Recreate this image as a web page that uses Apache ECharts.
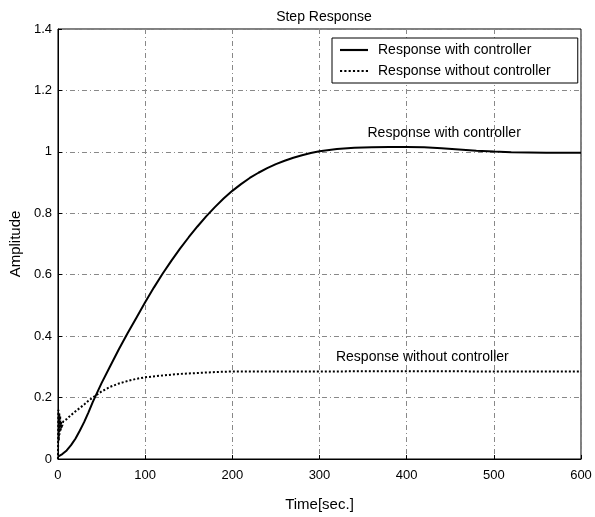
<!DOCTYPE html>
<html>
<head>
<meta charset="utf-8">
<script src="https://cdn.jsdelivr.net/npm/echarts@6/dist/echarts.min.js"></script>
<style>html,body{margin:0;padding:0;background:#fff}#c{width:595px;height:517px}</style>
</head>
<body>
<div id="c"></div>
<script>
// Time axis ticks
const xTicks = [0, 100, 200, 300, 400, 500, 600];
const yTicks = [0, 0.2, 0.4, 0.6, 0.8, 1, 1.2, 1.4];

// Response with controller
const tWith = [0, 5, 10, 15, 20, 25, 30, 35, 40, 50, 60, 70, 80, 90, 100, 110, 120, 130, 140, 150, 160, 170, 180, 190, 200, 210, 220, 230, 240, 250, 260, 270, 280, 290, 300, 320, 340, 360, 380, 400, 420, 440, 460, 480, 500, 520, 540, 560, 600];
const yWith = [0.008, 0.016, 0.028, 0.045, 0.066, 0.092, 0.12, 0.152, 0.186, 0.247, 0.303, 0.358, 0.41, 0.46, 0.51, 0.558, 0.603, 0.645, 0.685, 0.722, 0.757, 0.79, 0.82, 0.848, 0.873, 0.895, 0.915, 0.932, 0.947, 0.96, 0.971, 0.981, 0.989, 0.996, 1.002, 1.009, 1.013, 1.015, 1.016, 1.016, 1.015, 1.012, 1.008, 1.004, 1.001, 0.999, 0.998, 0.997, 0.997];

// Response without controller
const tWithout = [0, 0.5, 1, 1.5, 2, 2.5, 3, 3.5, 4, 5, 6, 10, 15, 20, 25, 30, 35, 40, 45, 50, 60, 70, 80, 90, 100, 120, 140, 160, 180, 200, 250, 300, 400, 500, 600];
const yWithout = [0, 0.16, 0.06, 0.15, 0.08, 0.14, 0.09, 0.12, 0.1, 0.11, 0.122, 0.13, 0.143, 0.155, 0.166, 0.177, 0.19, 0.2, 0.21, 0.22, 0.235, 0.246, 0.254, 0.261, 0.266, 0.272, 0.277, 0.28, 0.283, 0.285, 0.285, 0.285, 0.286, 0.285, 0.285];

const names = ['Response with controller', 'Response without controller'];
// annotation anchors in data units
const noteWith = [443, 1.062];
const noteWithout = [418, 0.333];

const font = 'Liberation Sans, Arial, sans-serif';
const solidIcon = 'path://M0,0H26V2H0Z';
const dottedIcon = 'path://M0,0h2v2h-2zM4,0h2v2h-2zM8,0h2v2h-2zM12,0h2v2h-2zM16,0h2v2h-2zM20,0h2v2h-2zM24,0h2v2h-2z';

const chart = echarts.init(document.getElementById('c'));
const gridLine = { show: true, lineStyle: { color: '#888', width: 1, type: [5, 3, 1, 3] } };

chart.setOption({
  animation: false,
  backgroundColor: '#fff',
  title: {
    text: 'Step Response', left: 319, top: 5, textAlign: 'center',
    textStyle: { fontFamily: font, fontSize: 14, fontWeight: 'normal', color: '#000' }
  },
  legend: {
    orient: 'vertical', left: 332, top: 38,
    padding: [5, 27, 5, 8], itemGap: 7, itemWidth: 28, itemHeight: 12,
    borderColor: '#000', borderWidth: 1, backgroundColor: '#fff',
    textStyle: { fontFamily: font, fontSize: 14, color: '#000', padding: [0, 0, 0, 5] },
    data: [{ name: names[0], icon: solidIcon }, { name: names[1], icon: dottedIcon }]
  },
  grid: { left: 57, right: 14, top: 29, bottom: 56, show: true, borderColor: '#000', borderWidth: 1 },
  xAxis: {
    type: 'value', min: 0, max: 600, interval: 100,
    name: 'Time[sec.]', nameLocation: 'middle', nameGap: 38,
    nameTextStyle: { fontFamily: font, fontSize: 15, color: '#000' },
    axisLine: { lineStyle: { color: '#000', width: 1 } },
    axisTick: { inside: true, length: 4, lineStyle: { color: '#000' } },
    axisLabel: { fontFamily: font, fontSize: 13, color: '#000', margin: 10 },
    splitLine: gridLine
  },
  yAxis: {
    type: 'value', min: 0, max: 1.4, interval: 0.2,
    name: 'Amplitude', nameLocation: 'middle', nameGap: 30,
    nameTextStyle: { fontFamily: font, fontSize: 15, color: '#000' },
    axisLine: { show: true, lineStyle: { color: '#000', width: 1 } },
    axisTick: { show: true, inside: true, length: 4, lineStyle: { color: '#000' } },
    axisLabel: { fontFamily: font, fontSize: 13, color: '#000', margin: 6,
      formatter: v => String(+v.toFixed(1)) },
    splitLine: gridLine
  },
  series: [
    {
      name: names[0], type: 'line', symbol: 'none', smooth: false,
      lineStyle: { color: '#000', width: 2 }, itemStyle: { color: '#000' },
      data: tWith.map((t, i) => [t, yWith[i]]),
      markPoint: {
        symbol: 'circle', symbolSize: 0,
        label: { show: true, position: 'inside', formatter: names[0],
          fontFamily: font, fontSize: 14, color: '#000' },
        data: [{ coord: noteWith }]
      }
    },
    {
      name: names[1], type: 'line', symbol: 'none',
      lineStyle: { color: '#000', width: 2, type: 'dotted' }, itemStyle: { color: '#000' },
      data: tWithout.map((t, i) => [t, yWithout[i]]),
      markPoint: {
        symbol: 'circle', symbolSize: 0,
        label: { show: true, position: 'inside', formatter: names[1],
          fontFamily: font, fontSize: 14, color: '#000' },
        data: [{ coord: noteWithout }]
      }
    }
  ]
});
</script>
</body>
</html>
